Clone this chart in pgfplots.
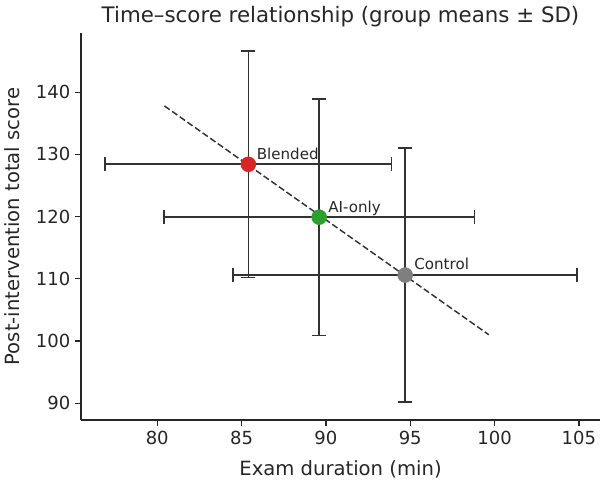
\documentclass[border=0pt]{standalone}
\usepackage{pgfplots}
\pgfplotsset{compat=1.18}
\usepackage{fontspec}
\setmainfont{DejaVu Sans}

\definecolor{txt}{HTML}{262626}
\definecolor{ebar}{HTML}{333333}
\definecolor{cBlend}{HTML}{D62728}
\definecolor{cAI}{HTML}{2CA02C}
\definecolor{cCtrl}{HTML}{7F7F7F}

\pgfplotsset{
  hbar/.style={ebar, line width=1.2pt, mark=|, mark size=5.25pt,
    mark options={solid, line width=1.2pt}},
  vbar/.style={ebar, line width=1.2pt, mark=-, mark size=5.25pt,
    mark options={solid, line width=1.2pt}},
  mean/.style={only marks, mark=*, mark size=5.6pt, draw=#1, fill=#1},
}
\tikzset{lbl/.style={anchor=base west, inner sep=0pt, text=txt,
  font=\fontsize{11.3}{13}\selectfont}}

\begin{document}
\begin{tikzpicture}
\path[use as bounding box] (0,0) rectangle (454.5pt,362.25pt);
\begin{axis}[
  at={(60.75pt,47.25pt)}, anchor=south west,
  scale only axis, width=389.25pt, height=290.25pt,
  xmin=75.48, xmax=106.25, ymin=87.3, ymax=149.5,
  clip=false,
  axis x line*=bottom, axis y line*=left,
  axis line style={-, draw=txt, line width=0.9pt},
  xtick={80,85,...,105}, ytick={90,100,...,140},
  tick align=outside, major tick length=4.5pt,
  tick style={draw=txt, line width=0.9pt},
  /pgf/number format/assume math mode=true,
  tick label style={font=\fontsize{13.5}{16}\selectfont, text=txt},
  xlabel={Exam duration (min)},
  ylabel={Post-intervention total score},
  xlabel style={font=\fontsize{14.7}{17}\selectfont, text=txt,
    at={(axis description cs:0.5,0)}, anchor=base, yshift=-41.25pt},
  ylabel style={font=\fontsize{14.7}{17}\selectfont, text=txt,
    at={([xshift=-46.1pt]axis description cs:0,0.5)}, anchor=base},
  title={Time–score relationship (group means ± SD)},
  title style={font=\fontsize{16}{19}\selectfont, text=txt,
    at={(axis description cs:0.5,1)}, anchor=base, yshift=1.5pt},
]
% fitted trend line
\addplot[ebar, line width=1.1pt, dash pattern=on 4.8pt off 2.2pt]
  coordinates {(80.43,137.77) (99.66,101.0)};

% mean +/- SD: Blended (85.4 +/- 8.5, 128.4 +/- 18.2)
\addplot[hbar] coordinates {(76.9,128.4) (93.9,128.4)};
\addplot[vbar] coordinates {(85.4,110.2) (85.4,146.6)};
% AI-only (89.6 +/- 9.2, 119.9 +/- 19.0)
\addplot[hbar] coordinates {(80.4,119.9) (98.8,119.9)};
\addplot[vbar] coordinates {(89.6,100.9) (89.6,138.9)};
% Control (94.7 +/- 10.2, 110.6 +/- 20.45)
\addplot[hbar] coordinates {(84.5,110.6) (104.9,110.6)};
\addplot[vbar] coordinates {(94.7,90.15) (94.7,131.05)};

% group means
\addplot[mean=cBlend] coordinates {(85.4,128.4)};
\addplot[mean=cAI]    coordinates {(89.6,119.9)};
\addplot[mean=cCtrl]  coordinates {(94.7,110.6)};

\node[lbl, xshift=6.2pt, yshift=3.75pt] at (axis cs:85.4,128.4) {Blended};
\node[lbl, xshift=6.75pt, yshift=3.2pt] at (axis cs:89.6,119.9) {AI-only};
\node[lbl, xshift=6.75pt, yshift=4.5pt] at (axis cs:94.7,110.6) {Control};
\end{axis}
\end{tikzpicture}
\end{document}
